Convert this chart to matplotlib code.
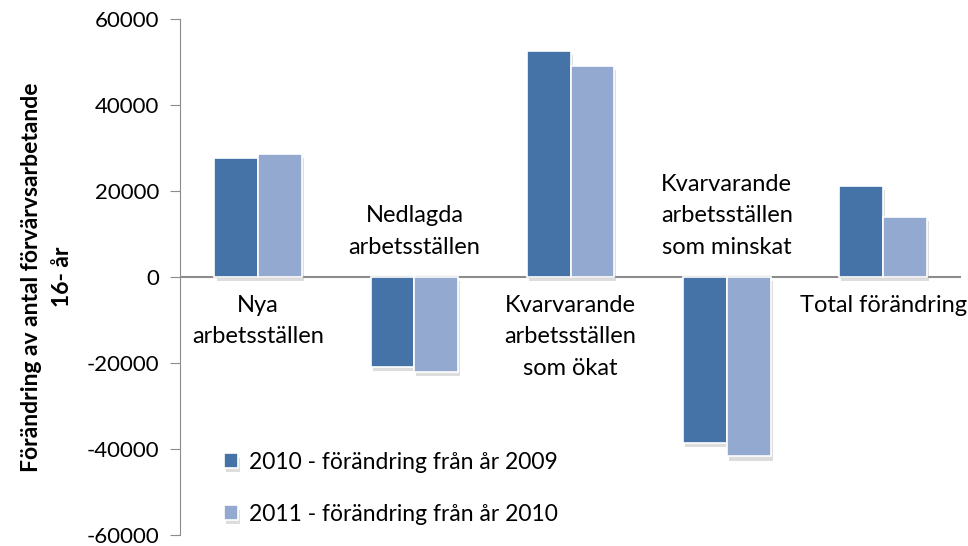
import matplotlib
matplotlib.use("Agg")
import matplotlib.pyplot as plt
import matplotlib.patheffects as pe
import numpy as np

plt.rcParams['font.family'] = ['Lato', 'DejaVu Sans']
plt.rcParams['axes.unicode_minus'] = False

kategorier = ["Nya\narbetsställen", "Nedlagda\narbetsställen",
              "Kvarvarande\narbetsställen\nsom ökat",
              "Kvarvarande\narbetsställen\nsom minskat", "Total förändring"]
serie_2010 = [27600, -20900, 52600, -38500, 21200]
serie_2011 = [28600, -22100, 49100, -41700, 14000]
namn = ["2010 - förändring från år 2009", "2011 - förändring från år 2010"]
farger = ["#4572A7", "#93A9CF"]

fig = plt.figure(figsize=(9.68, 5.46), dpi=100)
ax = fig.add_axes([0.186, 0.020, 0.807, 0.945])

x = np.arange(len(kategorier))
b = 0.28
skugga = [pe.SimplePatchShadow(offset=(1.5, -3), shadow_rgbFace="#aaaaaa", alpha=0.4), pe.Normal()]
for i, (vals, f, n) in enumerate(zip([serie_2010, serie_2011], farger, namn)):
    bars = ax.bar(x + (i - 0.5) * b, vals, b, color=f, edgecolor="white", linewidth=1.2, label=n, zorder=3)
    for r in bars:
        r.set_path_effects(skugga)

ax.axhline(0, color="#8c8c8c", linewidth=1.5, zorder=2)
ax.set_xlim(-0.5, len(kategorier) - 0.5)
ax.set_ylim(-60000, 60000)
ax.set_yticks(np.arange(-60000, 60001, 20000))
ax.tick_params(axis="y", labelsize=16, direction="out", length=7, color="#8c8c8c", pad=8)
ax.set_xticks([])
for s in ["top", "right", "bottom"]:
    ax.spines[s].set_visible(False)
ax.spines["left"].set_color("#8c8c8c")

ax.set_ylabel("Förändring av antal förvärvsarbetande\n16- år", fontsize=16.5, fontweight="bold", labelpad=10, linespacing=1.55)

for xi, k, v in zip(x, kategorier, serie_2010):
    if v >= 0:
        ax.annotate(k, (xi, 0), xytext=(0, -13), textcoords="offset points", ha="center", va="top", fontsize=17, linespacing=1.6)
    else:
        ax.annotate(k, (xi, 0), xytext=(0, 14), textcoords="offset points", ha="center", va="bottom", fontsize=17, linespacing=1.6)

ax.legend(loc="lower left", bbox_to_anchor=(0.03, -0.02), frameon=False, fontsize=16.5,
          handlelength=0.6, handleheight=0.6, handletextpad=0.5, labelspacing=1.35)

fig.savefig("out.png", dpi=100)
